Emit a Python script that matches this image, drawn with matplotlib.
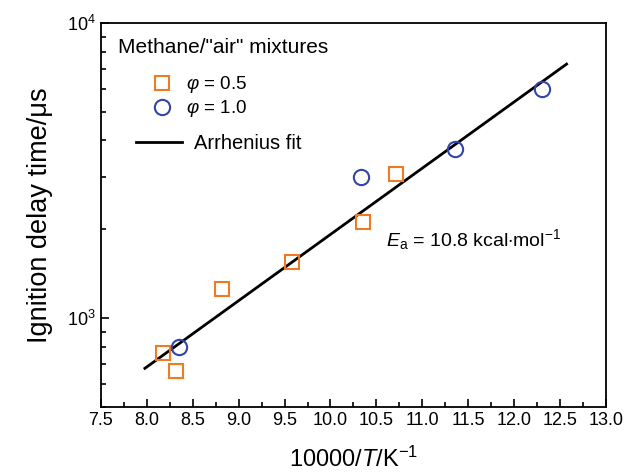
import numpy as np
import matplotlib
matplotlib.use("Agg")
import matplotlib.pyplot as plt
from matplotlib.lines import Line2D
from matplotlib.ticker import LogLocator, MultipleLocator, NullFormatter

plt.rcParams['font.family'] = ['Liberation Sans', 'DejaVu Sans']
plt.rcParams['mathtext.fontset'] = 'custom'
plt.rcParams['mathtext.rm'] = 'Liberation Sans'
plt.rcParams['mathtext.it'] = 'Liberation Sans:italic'

# data
x_phi05 = [8.18, 8.32, 8.82, 9.58, 10.35, 10.71]
tau_phi05 = [760, 660, 1255, 1555, 2110, 3080]
x_phi10 = [8.35, 10.33, 11.36, 12.30]
tau_phi10 = [800, 3010, 3750, 5960]

# Arrhenius fit: log10(tau) = a + b * (10000/T)
fit_a = 1.0377
fit_b = 0.2246
fit_range = [7.98, 12.57]

orange = '#F07A22'
blue = '#3344A8'

fig = plt.figure(figsize=(6.38, 4.74), dpi=100)
ax = fig.add_axes([0.158, 0.1414, 0.792, 0.81])

xf = np.linspace(fit_range[0], fit_range[1], 50)
ax.plot(xf, 10 ** (fit_a + fit_b * xf), color='black', lw=2, zorder=2)
ax.plot(x_phi05, tau_phi05, ls='none', marker='s', ms=10, mfc='none',
        mec=orange, mew=1.5, zorder=3)
ax.plot(x_phi10, tau_phi10, ls='none', marker='o', ms=11, mfc='none',
        mec=blue, mew=1.5, zorder=3)

ax.set_yscale('log')
ax.set_xlim(7.5, 13.0)
ax.set_ylim(500, 10000)
ax.xaxis.set_major_locator(MultipleLocator(0.5))
ax.xaxis.set_minor_locator(MultipleLocator(0.25))
ax.xaxis.set_major_formatter(matplotlib.ticker.FormatStrFormatter('%.1f'))
ax.yaxis.set_major_locator(LogLocator(base=10))
ax.yaxis.set_minor_locator(LogLocator(base=10, subs=np.arange(2, 10)))
ax.yaxis.set_minor_formatter(NullFormatter())
ax.tick_params(which='both', direction='in', top=False, right=False,
               labelsize=13, width=1.2)
ax.tick_params(which='major', length=6)
ax.tick_params(which='minor', length=3.5)
for s in ax.spines.values():
    s.set_linewidth(1.3)

ax.set_xlabel(r'10000/$T$/K$^{-1}$', fontsize=17, labelpad=13)
ax.set_ylabel('Ignition delay time/μs', fontsize=19.5, labelpad=10)

ax.text(0.035, 0.937, 'Methane/"air" mixtures', transform=ax.transAxes,
        fontsize=15, va='center', ha='left')

h1 = [Line2D([], [], ls='none', marker='s', ms=10, mfc='none', mec=orange, mew=1.5),
      Line2D([], [], ls='none', marker='o', ms=11, mfc='none', mec=blue, mew=1.5)]
leg1 = ax.legend(h1, [r'$\varphi$ = 0.5', r'$\varphi$ = 1.0'], loc='upper left',
                 bbox_to_anchor=(0.103, 0.866), frameon=False, fontsize=13.5,
                 handlelength=1.0, handletextpad=0.75, labelspacing=0.15,
                 borderaxespad=0, borderpad=0)
ax.add_artist(leg1)
h2 = [Line2D([], [], color='black', lw=2)]
ax.legend(h2, ['Arrhenius fit'], loc='upper left', bbox_to_anchor=(0.07, 0.71),
          frameon=False, fontsize=14.5, handlelength=2.3, handletextpad=0.55,
          borderaxespad=0, borderpad=0)

ax.text(11.56, 1850, r'$E_{\rm a}$ = 10.8 kcal$\cdot$mol$^{-1}$', fontsize=14,
        ha='center', va='center')

fig.savefig('out.png', dpi=100)
